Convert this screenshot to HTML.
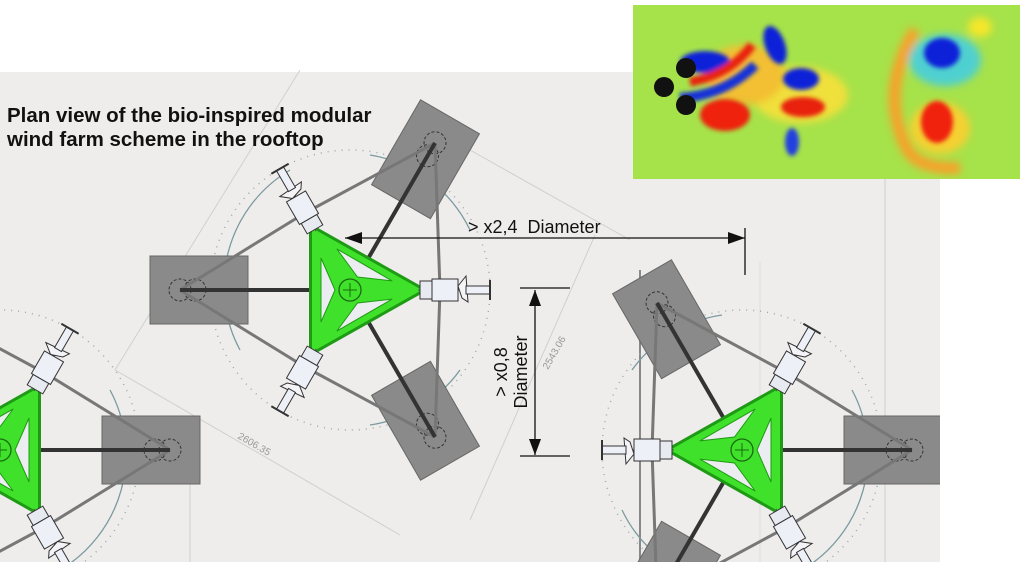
<!DOCTYPE html>
<html><head><meta charset="utf-8"><style>
html,body{margin:0;padding:0;background:#fff;overflow:hidden;width:1024px;height:562px;}
svg{display:block;}
</style></head><body>
<svg width="1024" height="562" viewBox="0 0 1024 562" xmlns="http://www.w3.org/2000/svg">
<defs>
<filter id="bl" x="-50%" y="-50%" width="200%" height="200%"><feGaussianBlur stdDeviation="4"/></filter>
<filter id="bl2" x="-50%" y="-50%" width="200%" height="200%"><feGaussianBlur stdDeviation="2"/></filter>
<g id="pad">
  <rect x="-200" y="-34" width="98" height="68" fill="#8a8a8a" stroke="#666" stroke-width="1"/>
  <circle cx="-170" cy="0" r="11" fill="none" stroke="#333" stroke-dasharray="3 2"/>
  <circle cx="-155" cy="0" r="11" fill="none" stroke="#333" stroke-dasharray="3 2"/>
</g>
<g id="nac">
  <line x1="68" y1="0" x2="140" y2="0" stroke="#555" stroke-width="1"/>
  <rect x="70" y="-9" width="12" height="18" fill="#e8eaf2" stroke="#333" stroke-width="1"/>
  <rect x="82" y="-11" width="26" height="22" fill="#eef0f8" stroke="#333" stroke-width="1"/>
  <path d="M108,-4 L116,-14 L118,12 L112,8 Z" fill="#f4f4f8" stroke="#333" stroke-width="1"/>
  <rect x="116" y="-4" width="24" height="8" fill="#eef0f8" stroke="#333" stroke-width="1"/>
  <line x1="140" y1="-10" x2="140" y2="10" stroke="#333" stroke-width="2"/>
</g>
<path id="hole" d="M-29,-32 L-29,32 L-15,0 Z" fill="#ecedf0" stroke="#1e9a14" stroke-width="1"/>
<g id="mod">
  <circle cx="0" cy="0" r="140" fill="none" stroke="#9aa" stroke-width="1.5" stroke-dasharray="1 6"/>
  <path d="M-60,-120 A135,135 0 0 0 -110,60" fill="none" stroke="#7a9aa0" stroke-width="1.3"/>
  <path d="M20,-135 A135,135 0 0 1 120,-60" fill="none" stroke="#7a9aa0" stroke-width="1.3"/>
  <path d="M110,80 A135,135 0 0 1 20,135" fill="none" stroke="#7a9aa0" stroke-width="1.3"/>
  <use href="#pad"/>
  <use href="#pad" transform="rotate(120)"/>
  <use href="#pad" transform="rotate(240)"/>
  <g stroke="#777" stroke-width="3" fill="none">
    <line x1="-170" y1="0" x2="-45" y2="-77"/>
    <line x1="-170" y1="0" x2="-45" y2="77"/>
    <line x1="85" y1="-147" x2="-45" y2="-77"/>
    <line x1="85" y1="147" x2="-45" y2="77"/>
    <line x1="85" y1="-147" x2="90" y2="0"/>
    <line x1="85" y1="147" x2="90" y2="0"/>
  </g>
  <g stroke="#333" stroke-width="4">
    <line x1="-170" y1="0" x2="-10" y2="0"/>
    <line x1="85" y1="-147" x2="-25" y2="43"/>
    <line x1="85" y1="147" x2="-25" y2="-43"/>
  </g>
  <path d="M72,0 L-38,62 L-38,-62 Z" fill="#3fe12a" stroke="#1e9a14" stroke-width="6" stroke-linejoin="round"/>
  <path d="M72,0 L-38,62 L-38,-62 Z" fill="#3fe12a"/>
  <use href="#hole"/>
  <use href="#hole" transform="rotate(120)"/>
  <use href="#hole" transform="rotate(240)"/>
  <circle cx="0" cy="0" r="11" fill="#3fe12a" stroke="#1a6a10" stroke-width="1.3"/>
  <line x1="-7" y1="0" x2="7" y2="0" stroke="#1a6a10"/><line x1="0" y1="-7" x2="0" y2="7" stroke="#1a6a10"/>
  <use href="#nac"/>
  <use href="#nac" transform="rotate(120)"/>
  <use href="#nac" transform="rotate(240)"/>
</g>
</defs>

<rect x="0" y="72" width="940" height="490" fill="#efedec"/>
<g stroke="#cfcfcf" stroke-width="1" fill="none">
  <line x1="115" y1="370" x2="400" y2="535"/>
  <line x1="115" y1="370" x2="300" y2="70"/>
  <line x1="470" y1="150" x2="630" y2="240"/>
  <line x1="595" y1="235" x2="470" y2="520"/>
  <line x1="885" y1="72" x2="885" y2="562"/>
  <line x1="190" y1="470" x2="190" y2="562"/>
  <line x1="760" y1="262" x2="760" y2="562" stroke="#ddd"/>
</g>
<line x1="640" y1="270" x2="640" y2="562" stroke="#888" stroke-width="2"/>

<use href="#mod" transform="translate(350,290)"/>
<use href="#mod" transform="translate(742,450) rotate(180)"/>
<use href="#mod" transform="translate(0,450) rotate(180)"/>
<rect x="940" y="72" width="84" height="490" fill="#fff"/>

<g stroke="#111" stroke-width="1.3">
  <line x1="345" y1="238" x2="745" y2="238"/>
  <line x1="745" y1="228" x2="745" y2="275"/>
  <line x1="535" y1="290" x2="535" y2="455"/>
  <line x1="520" y1="288" x2="570" y2="288"/>
  <line x1="520" y1="456" x2="570" y2="456"/>
</g>
<path d="M345,238 L362,232 L362,244 Z" fill="#111"/>
<path d="M745,238 L728,232 L728,244 Z" fill="#111"/>
<path d="M535,290 L529,306 L541,306 Z" fill="#111"/>
<path d="M535,455 L529,439 L541,439 Z" fill="#111"/>
<text x="468" y="233" font-family="Liberation Sans, sans-serif" font-size="18" fill="#111" xml:space="preserve">&gt; x2,4  Diameter</text>
<text transform="translate(507,372) rotate(-90)" text-anchor="middle" font-family="Liberation Sans, sans-serif" font-size="18" fill="#111">&gt; x0,8</text>
<text transform="translate(527,372) rotate(-90)" text-anchor="middle" font-family="Liberation Sans, sans-serif" font-size="18" fill="#111">Diameter</text>
<text transform="translate(237,438) rotate(30)" font-family="Liberation Sans, sans-serif" font-size="10" fill="#999">2606.35</text>
<text transform="translate(548,370) rotate(-60)" font-family="Liberation Sans, sans-serif" font-size="10" fill="#999">2543.06</text>

<text x="7" y="122" font-family="Liberation Sans, sans-serif" font-size="20.5" font-weight="bold" fill="#111">Plan view of the bio-inspired modular</text>
<text x="7" y="146" font-family="Liberation Sans, sans-serif" font-size="20.5" font-weight="bold" fill="#111">wind farm scheme in the rooftop</text>

<svg x="633" y="5" width="387" height="174" viewBox="633 5 387 174">
<rect x="633" y="5" width="387" height="174" fill="#a6e24a"/>
<g filter="url(#bl)">
  <ellipse cx="980" cy="27" rx="12" ry="10" fill="#f5e62a"/>
  <path d="M915,30 Q880,90 905,145 Q915,170 960,168" fill="none" stroke="#f7a22a" stroke-width="12"/>
  <ellipse cx="945" cy="60" rx="36" ry="26" fill="#4fd0d0"/>
  <ellipse cx="940" cy="128" rx="30" ry="26" fill="#f5d030"/>
  <ellipse cx="800" cy="95" rx="48" ry="28" fill="#f0e03a"/>
  <ellipse cx="745" cy="75" rx="40" ry="30" fill="#f2c030"/>
</g>
<g filter="url(#bl2)">
  <ellipse cx="942" cy="53" rx="18" ry="15" fill="#1020d8"/>
  <ellipse cx="937" cy="122" rx="16" ry="21" fill="#f02010"/>
  <ellipse cx="792" cy="142" rx="7" ry="14" fill="#2040e0"/>
  <ellipse cx="775" cy="45" rx="10" ry="20" fill="#1020d8" transform="rotate(-20 775 45)"/>
  <ellipse cx="801" cy="79" rx="18" ry="11" fill="#1020d8"/>
  <ellipse cx="803" cy="107" rx="22" ry="10" fill="#e82010"/>
  <ellipse cx="725" cy="115" rx="25" ry="16" fill="#ee2010"/>
  <ellipse cx="705" cy="62" rx="25" ry="11" fill="#1020d8"/>
  <path d="M690,82 Q730,75 752,45" fill="none" stroke="#e82010" stroke-width="9"/>
  <path d="M680,98 Q725,95 755,65" fill="none" stroke="#1530d8" stroke-width="10"/>
</g>
<circle cx="686" cy="68" r="10" fill="#111"/>
<circle cx="664" cy="87" r="10" fill="#111"/>
<circle cx="686" cy="105" r="10" fill="#111"/>
</svg>
</svg>
</body></html>
